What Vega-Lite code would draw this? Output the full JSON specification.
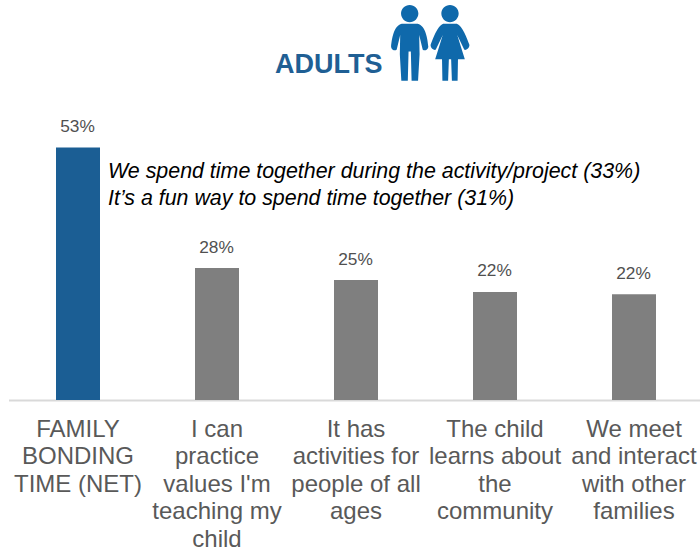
{
  "$schema": "https://vega.github.io/schema/vega-lite/v6.json",
  "width": 692,
  "height": 400,
  "autosize": "none",
  "padding": {"left": 8.5, "top": 0, "right": 0, "bottom": 151},
  "background": "white",
  "config": {"view": {"stroke": null}, "font": "Liberation Sans"},
  "datasets": {
    "bars": [
      {"category": "FAMILY|BONDING|TIME (NET)", "value": 53, "label": "53%", "group": "net"},
      {"category": "I can|practice|values I'm|teaching my|child", "value": 27.7, "label": "28%", "group": "item"},
      {"category": "It has|activities for|people of all|ages", "value": 25.2, "label": "25%", "group": "item"},
      {"category": "The child|learns about|the|community", "value": 22.7, "label": "22%", "group": "item"},
      {"category": "We meet|and interact|with other|families", "value": 22.2, "label": "22%", "group": "item"}
    ],
    "notes": [
      {"category": "FAMILY|BONDING|TIME (NET)", "value": 47.8, "text": "We spend time together during the activity/project (33%)"},
      {"category": "FAMILY|BONDING|TIME (NET)", "value": 42.2, "text": "It’s a fun way to spend time together (31%)"}
    ],
    "heading": [
      {"category": "It has|activities for|people of all|ages", "value": 70.3, "text": "ADULTS"}
    ],
    "icon": [
      {"category": "The child|learns about|the|community", "value": 75}
    ]
  },
  "encoding": {
    "x": {
      "field": "category",
      "type": "nominal",
      "sort": null,
      "scale": {"range": [0, 695], "paddingInner": 0, "paddingOuter": 0},
      "axis": {
        "title": null,
        "labelExpr": "split(datum.label, '|')",
        "labelAngle": 0,
        "labelFontSize": 24,
        "labelColor": "#595959",
        "labelLineHeight": 27.6,
        "labelPadding": 17,
        "labelLimit": 0,
        "labelOverlap": false,
        "labelBound": false,
        "labelFlush": false,
        "ticks": false,
        "domainColor": "#d9d9d9",
        "domainWidth": 2
      }
    },
    "y": {
      "field": "value",
      "type": "quantitative",
      "scale": {"domain": [0, 84], "nice": false, "zero": true},
      "axis": null
    }
  },
  "layer": [
    {
      "data": {"name": "bars"},
      "mark": {"type": "bar", "size": 44},
      "encoding": {
        "color": {
          "field": "group",
          "type": "nominal",
          "scale": {"domain": ["net", "item"], "range": ["#1B5E94", "#7F7F7F"]},
          "legend": null
        }
      }
    },
    {
      "data": {"name": "bars"},
      "mark": {"type": "text", "baseline": "middle", "dy": -20.5, "dx": -0.5, "fontSize": 17.3, "color": "#505050"},
      "encoding": {"text": {"field": "label"}}
    },
    {
      "data": {"name": "notes"},
      "mark": {"type": "text", "align": "left", "baseline": "middle", "dx": 30, "fontSize": 21.4, "fontStyle": "italic", "color": "#000000"},
      "encoding": {"text": {"field": "text"}}
    },
    {
      "data": {"name": "heading"},
      "mark": {"type": "text", "align": "left", "baseline": "middle", "dx": -81, "fontSize": 27, "fontWeight": "bold", "color": "#1F5F94"},
      "encoding": {"text": {"field": "text"}}
    },
    {
      "data": {"name": "icon"},
      "mark": {
        "type": "point", "filled": true, "opacity": 1, "color": "#0F69AB", "size": 5776, "xOffset": -85.3,
        "shape": "M0.228 -0.77A0.228 0.228 0 1 1 -0.228 -0.77A0.228 0.228 0 1 1 0.228 -0.77Z M-0.21 -0.5L0.21 -0.5C0.42 -0.45 0.47 -0.1 0.49 0.1C0.49 0.2 0.35 0.22 0.34 0.17L0.25 -0.21L0.26 0.3L0.22 1L0.05 1L0.03 0.23L-0.03 0.23L-0.05 1L-0.22 1L-0.26 0.3L-0.25 -0.21L-0.34 0.17C-0.35 0.22 -0.49 0.2 -0.49 0.1C-0.47 -0.1 -0.42 -0.45 -0.21 -0.5Z"
      }
    },
    {
      "data": {"name": "icon"},
      "mark": {
        "type": "point", "filled": true, "opacity": 1, "color": "#0F69AB", "size": 5776, "xOffset": -45,
        "shape": "M0.228 -0.77A0.228 0.228 0 1 1 -0.228 -0.77A0.228 0.228 0 1 1 0.228 -0.77Z M-0.18 -0.5L0.18 -0.5C0.33 -0.45 0.45 -0.1 0.51 0.05C0.52 0.15 0.39 0.22 0.37 0.17L0.19 -0.21L0.39 0.43L0.21 0.43L0.2 1L0.05 1L0.03 0.43L-0.03 0.43L-0.05 1L-0.2 1L-0.21 0.43L-0.39 0.43L-0.19 -0.21L-0.37 0.17C-0.39 0.22 -0.52 0.15 -0.51 0.05C-0.45 -0.1 -0.33 -0.45 -0.18 -0.5Z"
      }
    }
  ]
}
